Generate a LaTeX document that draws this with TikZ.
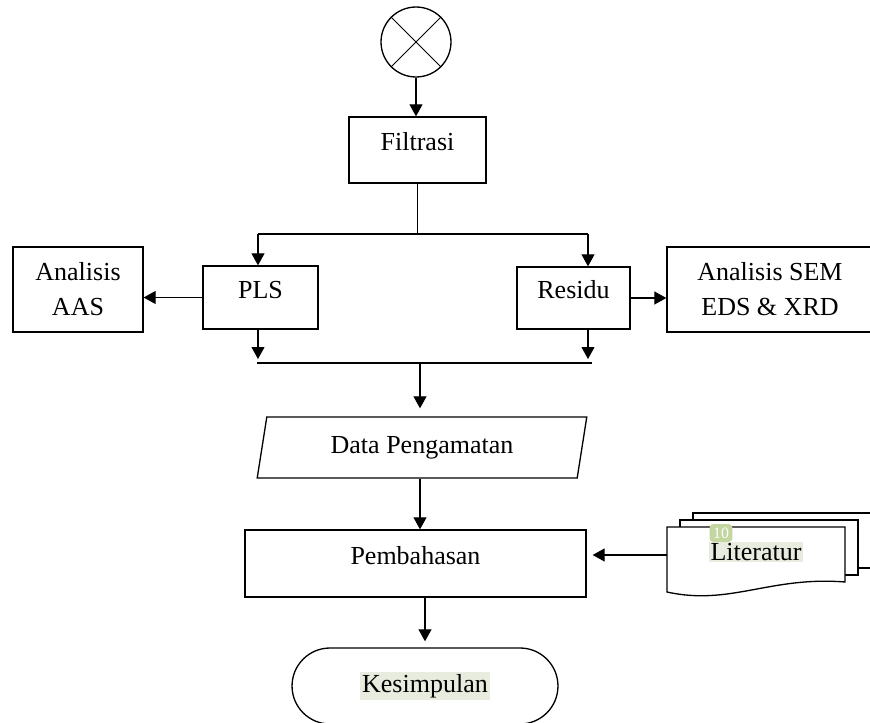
\documentclass[tikz,border=0pt]{standalone}
\usepackage{fontspec}
\setmainfont{Liberation Serif}
\usetikzlibrary{arrows.meta,shapes.geometric,shapes.misc}
\definecolor{hlgreen}{RGB}{232,236,222}
\definecolor{badgegreen}{RGB}{196,214,160}
\setlength{\fboxsep}{1pt}
\begin{document}
\begin{tikzpicture}
    [%%%%%%%%%%%%%%%%%%%%%%%%%%%%%%
        x=0.02cm, y=-0.02cm,
        font=\fontsize{14.8}{20}\selectfont,
        box/.style={rectangle,draw=black,line width=0.75pt,inner sep=0pt,align=center},
        tbox/.style={box,text height=0.4cm,text depth=0.36cm},
        io/.style={trapezium,trapezium left angle=76,trapezium right angle=104,trapezium stretches=true,draw=black,line width=0.75pt,minimum width=6.6cm,minimum height=1.22cm,inner sep=0pt},
        term/.style={rounded rectangle,draw=black,line width=0.75pt,minimum width=5.32cm,minimum height=1.52cm,inner sep=0pt},
        doc/.style={draw=black,line width=0.75pt,fill=white},
        badge/.style={fill=badgegreen,rounded corners=2pt,text=white,inner sep=2pt,minimum width=0.4cm,minimum height=0.34cm,font=\fontsize{9}{9}\selectfont},
        ln/.style={line width=0.6pt},
        arr/.style={ln,-{Triangle[length=0.24cm,width=0.26cm]}},
    ]%%%%%%%%%%%%%%%%%%%%%%%%%%%%%%
\useasboundingbox (0,0) rectangle (870,723);
% start
\node[circle,draw=black,line width=0.75pt,minimum size=1.4cm] (start) at (416,42) {};
\draw[ln] (start.45) -- (start.225);
\draw[ln] (start.135) -- (start.315);
\node[tbox,minimum width=2.74cm,minimum height=1.32cm] (filt) at (417.5,150) {Filtrasi};
% process row
\node[tbox,minimum width=2.3cm,minimum height=1.26cm] (pls) at (260.5,297.5) {PLS};
\node[tbox,minimum width=2.26cm,minimum height=1.24cm] (res) at (573.5,298) {Residu};
\node[box,minimum width=2.6cm,minimum height=1.7cm] (aas) at (78,289.5) {Analisis\\AAS};
\node[box,minimum width=4.12cm,minimum height=1.7cm] (sem) at (770,289.5) {Analisis SEM\\EDS \& XRD};
\node[io] (data) at (422,447.5) {Data Pengamatan};
\node[tbox,minimum width=6.82cm,minimum height=1.34cm] (pemb) at (415.5,563.5) {Pembahasan};
\node[term] (kes) at (425,686) {\colorbox{hlgreen}{Kesimpulan}};
% literatur (multi document)
\draw[doc] (693,513) -- (871,513) -- (871,568) -- (693,568) -- cycle;
\draw[doc] (680,520) -- (858,520) -- (858,575) -- (680,575) -- cycle;
\draw[doc] (667,527) -- (845,527) -- (845,582) .. controls (770,576) and (730,606) .. (667,592) -- cycle;
\node (lit) at (756,552) {\colorbox{hlgreen}{Literatur}};
\node[badge] (num) at (721,533) {10};
% branch points
\coordinate (bl) at (258,234);
\coordinate (br) at (588,234);
\coordinate (ml) at (257,363);
\coordinate (mr) at (592,363);
\coordinate (mm) at (420,363);
\coordinate (litin) at (667,555);
% connectors
\draw[arr] (start.south) -- (start.south |- filt.north);
\draw[ln] (filt.south) -- (filt.south |- bl);
\draw[ln] (bl) -- (br);
\draw[arr] (bl) -- (bl |- pls.north);
\draw[arr] (br) -- (br |- res.north);
\draw[arr] (pls.west) -- (pls.west -| aas.east);
\draw[arr] (res.east) -- (res.east -| sem.west);
\draw[arr,shorten >=0.08cm] (bl |- pls.south) -- (bl |- ml);
\draw[arr,shorten >=0.08cm] (br |- res.south) -- (br |- ml);
\draw[ln] (ml) -- (mr);
\draw[arr,shorten >=0.16cm] (mm) -- (mm |- data.north);
\draw[arr] (mm |- data.south) -- (mm |- pemb.north);
\draw[arr,shorten >=0.12cm] (litin) -- (litin -| pemb.east);
\draw[arr,shorten >=0.12cm] (kes.north |- pemb.south) -- (kes.north);
\end{tikzpicture}
\end{document}
